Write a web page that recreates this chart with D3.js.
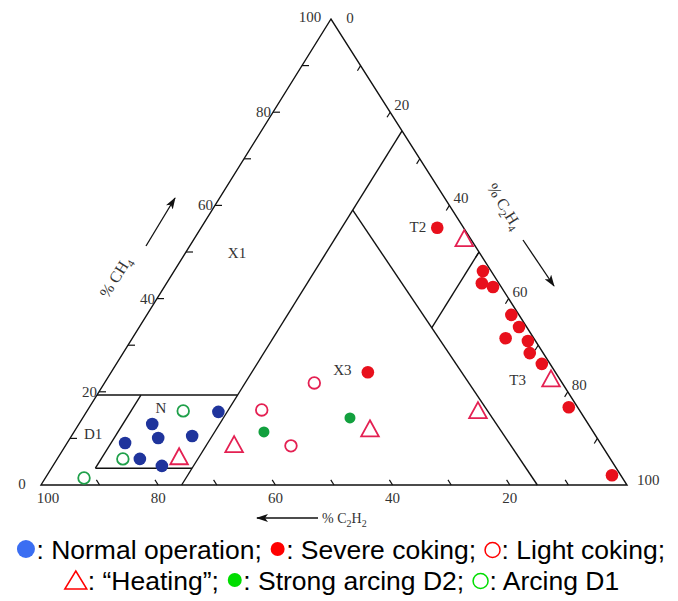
<!DOCTYPE html>
<html><head><meta charset="utf-8">
<script src="https://cdn.jsdelivr.net/npm/d3@7"></script>
<style>body{margin:0;background:#fff} svg{display:block}</style>
</head><body>
<svg id="chart" width="678" height="601"></svg>
<script>
// ---- data: each point is [CH4 %, C2H4 %] (C2H2 % = 100 - CH4 - C2H4)
const normalOperation = [[15.7,22.5],[13.1,12.5],[10.1,15.0],[10.5,20.6],[9.0,9.9],[5.6,14.1],[4.1,18.6]];
const severeCoking = [[55.2,40.3],[24.2,43.8],[45.9,52.7],[43.3,53.8],[42.5,56.1],[36.5,62.2],[33.9,64.8],[31.5,63.7],[30.9,67.8],[28.3,69.4],[26.0,72.6],[16.7,81.8],[2.1,96.4]];
const lightCoking = [[21.9,35.8],[16.1,29.7],[8.4,38.5]];
const heating = [[6.0,20.6],[8.6,28.7],[12.0,50.2],[52.8,46.1],[15.9,66.7],[22.7,75.8]];
const strongArcingD2 = [[11.4,32.4],[14.4,45.6]];
const arcingD1 = [[15.9,16.4],[5.6,11.2],[1.5,6.6]];
// zone boundaries, [CH4, C2H4] end points
const zoneLines = [
  [[19.3,0],[19.3,24]],
  [[3.6,7.5],[3.6,24]],
  [[3.6,7.5],[19.3,7.5]],
  [[0,24],[76,24]],
  [[59,24],[0,84.7]],
  [[50,50],[33.7,50]]
];
const zoneNames = ["X1","X3","T2","T3","N"];
const zoneNamePos = [[49.8,8.8],[24.7,39.2],[55.4,36.9],[22.5,70.2],[16.5,12.3]];
const tickValues = [10,20,30,40,50,60,70,80,90];
const labelValues = [20,40,60,80];
const legendRow1 = [
  {shape:"dot", color:"#3b6ef2", r:9, text:": Normal operation; "},
  {shape:"dot", color:"#ff0000", r:7, text:": Severe coking; "},
  {shape:"ring", color:"#ff0000", r:7.5, text:": Light coking;"}
];
const legendRow2 = [
  {shape:"tri", color:"#ff0000", r:10, text:": \u201cHeating\u201d; "},
  {shape:"dot", color:"#00dd00", r:7, text:": Strong arcing D2; "},
  {shape:"ring", color:"#00dd00", r:7.5, text:": Arcing D1"}
];

// ---- geometry
const L = [41,485], R = [627,485], T = [331,19];
const yS = d3.scaleLinear().domain([0,100]).range([L[1], T[1]]);           // CH4 -> y
const xB = d3.scaleLinear().domain([0,100]).range([L[0], R[0]]);           // C2H4 -> x along base
const xA = d3.scaleLinear().domain([0,100]).range([0, T[0]-L[0]]);         // CH4 -> x shift
const P = d => [xB(d[1]) + xA(d[0]), yS(d[0])];

const svg = d3.select("#chart");
const g = svg.append("g");
const serif = "'Liberation Serif','Times New Roman',serif";
const txtCol = "#333";

// outline
g.append("path").attr("d", d3.line()([L,R,T]) + "Z")
  .attr("fill","none").attr("stroke","#111").attr("stroke-width",1.4).attr("stroke-linejoin","miter");

// zone lines
g.selectAll("line.zone").data(zoneLines).join("line").attr("class","zone")
  .attr("x1",d=>P(d[0])[0]).attr("y1",d=>P(d[0])[1])
  .attr("x2",d=>P(d[1])[0]).attr("y2",d=>P(d[1])[1])
  .attr("stroke","#111").attr("stroke-width",1.4);

// ticks
const unit = (a,b)=>{const dx=b[0]-a[0],dy=b[1]-a[1],l=Math.hypot(dx,dy);return [dx/l,dy/l];};
const dirTL = unit(T,L), dirRT = unit(R,T);
g.selectAll("line.tl").data(tickValues).join("line").attr("class","tl")
  .attr("x1",v=>P([v,0])[0]).attr("y1",v=>P([v,0])[1])
  .attr("x2",v=>P([v,0])[0]+7).attr("y2",v=>P([v,0])[1])
  .attr("stroke","#111").attr("stroke-width",1.2);
g.selectAll("line.tr").data(tickValues).join("line").attr("class","tr")
  .attr("x1",v=>P([100-v,v])[0]).attr("y1",v=>P([100-v,v])[1])
  .attr("x2",v=>P([100-v,v])[0]+dirTL[0]*6).attr("y2",v=>P([100-v,v])[1]+dirTL[1]*6)
  .attr("stroke","#111").attr("stroke-width",1.2);
g.selectAll("line.tb").data(tickValues).join("line").attr("class","tb")
  .attr("x1",v=>P([0,100-v])[0]).attr("y1",v=>P([0,100-v])[1])
  .attr("x2",v=>P([0,100-v])[0]+dirRT[0]*6).attr("y2",v=>P([0,100-v])[1]+dirRT[1]*6)
  .attr("stroke","#111").attr("stroke-width",1.2);

// tick labels
const lab = (x,y,t,anchor)=>g.append("text").attr("x",x).attr("y",y).attr("text-anchor",anchor||"middle")
  .attr("dominant-baseline","central").attr("font-family",serif).attr("font-size",15).attr("fill",txtCol).text(t);
labelValues.forEach(v=>{const p=P([v,0]); lab(p[0]-2,p[1],v,"end");});
labelValues.forEach(v=>{const p=P([100-v,v]); lab(p[0]+4,p[1]-7,v,"start");});
labelValues.forEach(v=>{const p=P([0,100-v]); lab(p[0],p[1]+13,v,"middle");});
{const p=P([100,0]); lab(p[0]-21,p[1]-2,100,"middle"); lab(p[0]+19,p[1]-1,0,"middle");}
{const p=P([0,0]); lab(p[0]-19,p[1]-1,0,"middle"); lab(p[0]+7,p[1]+13,100,"middle");}
{const p=P([0,100]); lab(p[0]+10,p[1]-5,100,"start");}

// zone names
zoneNames.forEach((n,i)=>{const p=P(zoneNamePos[i]); lab(p[0],p[1],n,"middle");});
{const p=P([10,0]); lab(p[0]+14,p[1]-4,"D1","start");}

// axis titles
function subText(sel, parts, subSize){
  parts.forEach(pt=>{
    if(pt.sub){ sel.append("tspan").attr("font-size",subSize).attr("dy",4).text(pt.t); }
    else { sel.append("tspan").attr("dy", pt.back?-4:0).text(pt.t); }
  });
}
const t1 = g.append("text").attr("font-family",serif).attr("font-size",16).attr("fill",txtCol)
  .attr("text-anchor","middle").attr("transform","translate(120,280) rotate(-58)");
subText(t1,[{t:"% CH"},{t:"4",sub:true}],11);
const t2 = g.append("text").attr("font-family",serif).attr("font-size",16).attr("fill",txtCol)
  .attr("text-anchor","middle").attr("transform","translate(500,209) rotate(58)");
subText(t2,[{t:"% C"},{t:"2",sub:true},{t:"H",back:true},{t:"4",sub:true}],11);
const t3 = g.append("text").attr("font-family",serif).attr("font-size",14).attr("fill",txtCol)
  .attr("x",322).attr("y",523);
subText(t3,[{t:"% C"},{t:"2",sub:true},{t:"H",back:true},{t:"2",sub:true}],10);

// arrows
svg.append("defs").append("marker").attr("id","ah").attr("viewBox","0 0 12 8")
  .attr("refX",11).attr("refY",4).attr("markerWidth",12).attr("markerHeight",8)
  .attr("markerUnits","userSpaceOnUse").attr("orient","auto")
  .append("path").attr("d","M0,0 L12,4 L0,8 L3,4 Z").attr("fill","#111");
[[[146,246],[175,198]],[[523,240],[554,286]],[[318,518],[257,518]]].forEach(a=>{
  g.append("line").attr("x1",a[0][0]).attr("y1",a[0][1]).attr("x2",a[1][0]).attr("y2",a[1][1])
    .attr("stroke","#111").attr("stroke-width",1.3).attr("marker-end","url(#ah)");
});

// points
const pts = g.append("g");
pts.selectAll("circle.n").data(normalOperation).join("circle").attr("class","n")
  .attr("cx",d=>P(d)[0]).attr("cy",d=>P(d)[1]).attr("r",6.3).attr("fill","#1f349c");
pts.selectAll("circle.s").data(severeCoking).join("circle").attr("class","s")
  .attr("cx",d=>P(d)[0]).attr("cy",d=>P(d)[1]).attr("r",6.3).attr("fill","#e8101c");
pts.selectAll("circle.l").data(lightCoking).join("circle").attr("class","l")
  .attr("cx",d=>P(d)[0]).attr("cy",d=>P(d)[1]).attr("r",5.8).attr("fill","none")
  .attr("stroke","#e42052").attr("stroke-width",1.8);
pts.selectAll("circle.d2").data(strongArcingD2).join("circle").attr("class","d2")
  .attr("cx",d=>P(d)[0]).attr("cy",d=>P(d)[1]).attr("r",5.5).attr("fill","#12a03e");
pts.selectAll("circle.d1").data(arcingD1).join("circle").attr("class","d1")
  .attr("cx",d=>P(d)[0]).attr("cy",d=>P(d)[1]).attr("r",5.8).attr("fill","none")
  .attr("stroke","#1fa04a").attr("stroke-width",1.8);
const tri = (cx,cy,s)=>`M${cx},${cy-s*0.55} L${cx+s*0.55},${cy+s*0.45} L${cx-s*0.55},${cy+s*0.45} Z`;
pts.selectAll("path.h").data(heating).join("path").attr("class","h")
  .attr("d",d=>{const p=P(d);return tri(p[0],p[1],16);})
  .attr("fill","none").attr("stroke","#e42052").attr("stroke-width",1.8);

// legend
const sans = "'Liberation Sans',Arial,sans-serif";
function legendRow(items, cy, cxTarget){
  const row = svg.append("g");
  let x = 0;
  items.forEach(it=>{
    const w = it.shape==="tri" ? 24 : 2*it.r+3;
    const cx = x + w/2;
    if(it.shape==="dot") row.append("circle").attr("cx",cx).attr("cy",cy-1).attr("r",it.r).attr("fill",it.color);
    else if(it.shape==="ring") row.append("circle").attr("cx",cx).attr("cy",cy).attr("r",it.r).attr("fill","none").attr("stroke",it.color).attr("stroke-width",1.5);
    else row.append("path").attr("d",`M${cx},${cy-10} L${cx+11},${cy+8} L${cx-11},${cy+8} Z`).attr("fill","none").attr("stroke",it.color).attr("stroke-width",1.5);
    x += w;
    const t = row.append("text").attr("x",x).attr("y",cy).attr("dominant-baseline","central")
      .attr("font-family",sans).attr("font-size",26.5).attr("fill","#000")
      .style("white-space","pre").text(it.text);
    x += t.node().getComputedTextLength();
  });
  const bb = row.node().getBBox();
  row.attr("transform",`translate(${cxTarget - (bb.x + bb.width/2)},0)`);
}
legendRow(legendRow1, 550, 341);
legendRow(legendRow2, 581, 342);
</script>
</body></html>
